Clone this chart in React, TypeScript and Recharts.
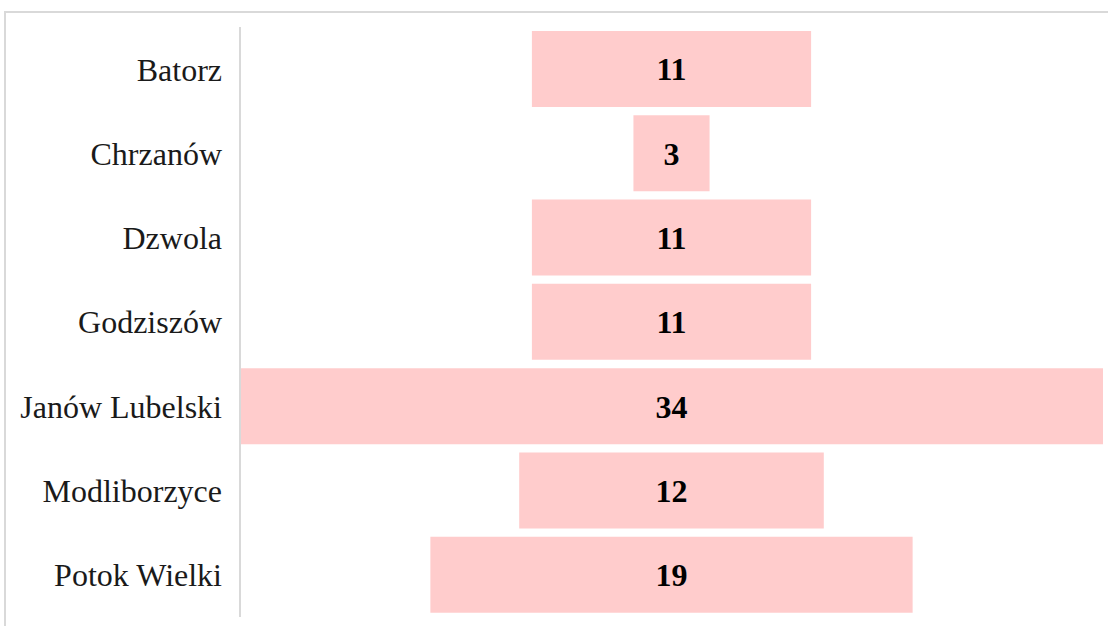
import React from "react";
import { BarChart, Bar, XAxis, YAxis, LabelList } from "recharts";

const categories = ["Batorz", "Chrzanów", "Dzwola", "Godziszów", "Janów Lubelski", "Modliborzyce", "Potok Wielki"];
const values = [11, 3, 11, 11, 34, 12, 19];

const maxValue = Math.max(...values);
const data = categories.map((name, i) => ({ name, value: values[i] }));

const FONT = '"Liberation Serif", "Times New Roman", serif';

export default function App() {
  return (
    <div style={{ position: "absolute", left: 0, top: 0, width: 1108, height: 626, background: "#fff", overflow: "hidden" }}>
      <div
        style={{
          position: "absolute",
          left: 4,
          top: 11,
          width: 1120,
          height: 640,
          borderTop: "2px solid #d9d9d9",
          borderLeft: "2px solid #d9d9d9",
          boxSizing: "border-box",
        }}
      />
      <div style={{ position: "absolute", left: 0, top: 0 }}>
        <BarChart
          width={1108}
          height={626}
          data={data}
          layout="vertical"
          margin={{ top: 27, right: 5, bottom: 9, left: 0 }}
          barCategoryGap={4}
        >
          <XAxis type="number" hide domain={[0, maxValue]} />
          <YAxis
            type="category"
            dataKey="name"
            width={240}
            axisLine={{ stroke: "#d9d9d9", strokeWidth: 2 }}
            tickLine={false}
            tickMargin={12}
            tick={{ fontFamily: FONT, fontSize: 32, fill: "#1a1a1a" }}
          />
          <Bar
            dataKey={(d: { value: number }) => [(maxValue - d.value) / 2, (maxValue + d.value) / 2]}
            fill="#ffcccc"
            isAnimationActive={false}
          >
            <LabelList
              dataKey="value"
              position="center"
              style={{ fontFamily: FONT, fontSize: 32, fontWeight: "bold", fill: "#000" }}
            />
          </Bar>
        </BarChart>
      </div>
    </div>
  );
}
